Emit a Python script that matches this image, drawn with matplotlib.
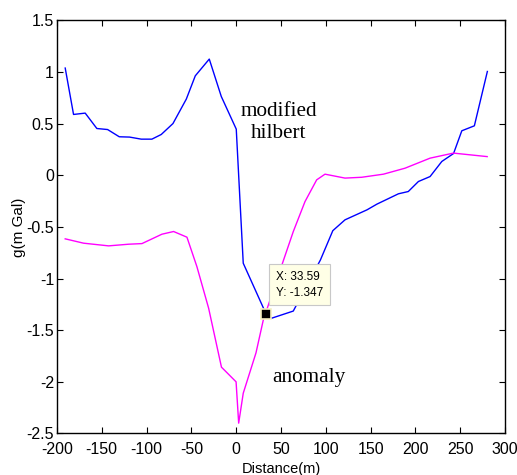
import matplotlib
matplotlib.use("Agg")
import matplotlib.pyplot as plt

# modified hilbert transform curve
hilbert_x = [-190.7, -181.4, -168.4, -155.4, -143.4, -130.4, -118.9, -105.9, -94.0, -83.6,
             -70.5, -55.6, -45.6, -30.0, -16.6, 0.1, 7.9, 33.59, 39.6, 63.7,
             94.0, 107.8, 121.4, 146.0, 157.0, 181.0, 192.0, 203.3, 216.3, 229.4,
             242.5, 251.7, 265.7, 280.2]
hilbert_y = [1.037, 0.588, 0.601, 0.452, 0.442, 0.372, 0.369, 0.349, 0.349, 0.394,
             0.50, 0.737, 0.962, 1.124, 0.762, 0.446, -0.852, -1.347, -1.384, -1.315,
             -0.82, -0.537, -0.432, -0.335, -0.28, -0.18, -0.158, -0.061, -0.013, 0.133,
             0.21, 0.43, 0.478, 1.004]

# gravity anomaly curve
anomaly_x = [-190.7, -170.2, -142.3, -120.0, -105.1, -82.8, -69.8, -54.9, -43.8, -30.7,
             -16.4, -0.1, 2.8, 7.9, 22.1, 30.3, 53.7, 63.7, 76.8, 89.8,
             99.1, 121.4, 140.0, 164.3, 188.4, 216.3, 242.3, 280.0]
anomaly_y = [-0.616, -0.658, -0.684, -0.668, -0.662, -0.571, -0.545, -0.600, -0.885, -1.288,
             -1.858, -2.0, -2.40, -2.11, -1.72, -1.40, -0.80, -0.546, -0.255, -0.045,
             0.01, -0.028, -0.02, 0.01, 0.068, 0.165, 0.214, 0.18]

# data tip
tip_x = 33.59
tip_y = -1.347

xticks = [-200, -150, -100, -50, 0, 50, 100, 150, 200, 250, 300]
yticks = [-2.5, -2, -1.5, -1, -0.5, 0, 0.5, 1, 1.5]
ytick_labels = ["-2.5", "-2", "-1.5", "-1", "-0.5", "0", "0.5", "1", "1.5"]

sans = ["Liberation Sans", "DejaVu Sans"]
serif = ["Liberation Serif", "DejaVu Serif"]

fig = plt.figure(figsize=(5.17, 4.75), dpi=100)
ax = fig.add_axes([0.110, 0.0874, 0.867, 0.870])

ax.plot(hilbert_x, hilbert_y, color="#0000ff", lw=1.0)
ax.plot(anomaly_x, anomaly_y, color="#ff00ff", lw=1.0)

ax.set_xlim(-200, 300)
ax.set_ylim(-2.5, 1.5)
ax.set_xticks(xticks)
ax.set_xticklabels([str(v) for v in xticks], family=sans, fontsize=11.5)
ax.set_yticks(yticks)
ax.set_yticklabels(ytick_labels, family=sans, fontsize=11.5)
ax.tick_params(direction="in", top=True, right=True, length=4, width=0.8)
ax.tick_params(axis="x", pad=6)
ax.tick_params(axis="y", pad=2)
for s in ax.spines.values():
    s.set_linewidth(1.0)

ax.set_xlabel("Distance(m)", family=sans, fontsize=10.5, labelpad=4)
ax.set_ylabel("g(m Gal)", family=sans, fontsize=11, labelpad=0)

ax.text(47.5, 0.51, "modified\nhilbert", family=serif, fontsize=15.3,
        ha="center", va="center", linespacing=1.15)
ax.text(80.7, -1.955, "anomaly", family=serif, fontsize=15.3, ha="center", va="center")

# data tip marker and label box
ax.plot([tip_x], [tip_y], marker="s", ms=7, mfc="black", mec="#f5f0c0", mew=1.2,
        zorder=5)
ax.annotate(f"X: {tip_x}\nY: {tip_y}", xy=(tip_x, tip_y), xytext=(44.4, -1.06),
            family=sans, fontsize=8.5, va="center", ha="left", linespacing=1.45,
            bbox=dict(boxstyle="square,pad=0.55", fc="#ffffe6", ec="#c8c8c8", lw=0.8),
            zorder=6)

fig.savefig("out.png", dpi=100)
